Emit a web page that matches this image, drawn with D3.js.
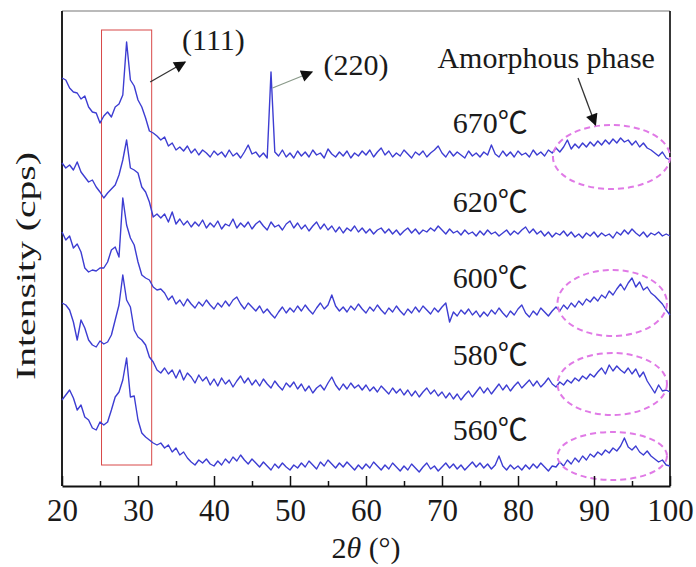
<!DOCTYPE html>
<html>
<head>
<meta charset="utf-8">
<script src="https://cdn.jsdelivr.net/npm/d3@7"></script>
<style>
  body { margin: 0; background: #fff; }
  svg { display: block; }
  text { font-family: "Liberation Serif", "Times New Roman", "Noto Sans CJK SC", serif; fill: #1a1a1a; }
</style>
</head>
<body>
<svg id="chart"></svg>
<script>
//scan angle grid, 2theta every 0.5 degree
const twoTheta = d3.range(20, 100.001, 0.5);

//stacked intensities (arbitrary offset units), one row = 10 degrees
const s670 = [
  408,406,398,394,393,387,390,379,374,373,363,370,374,369,379,382,391,444,406,400,
  386,379,368,355,353,350,346,349,340,343,336,339,335,340,333,337,331,336,333,329,
  335,331,334,329,336,330,333,328,334,341,332,334,329,333,328,414,334,330,336,329,
  333,328,335,330,334,329,336,331,333,328,337,332,329,334,330,335,328,333,330,335,
  331,336,329,334,338,331,335,329,333,330,336,332,328,334,331,335,329,333,336,340,
  333,329,335,330,334,331,328,335,330,333,329,334,331,341,332,329,335,330,334,329,
  335,331,333,329,336,331,334,330,336,333,338,334,339,346,337,342,338,343,339,344,
  340,345,341,346,342,347,343,348,344,346,341,345,339,343,338,336,333,330,334,328,
  326];
const s620 = [
  323,318,321,316,324,314,309,304,306,299,294,288,293,297,301,311,326,346,318,316,
  313,299,294,284,269,272,268,272,264,274,262,267,261,265,259,264,260,266,258,263,
  259,265,257,262,260,267,258,263,259,264,257,262,265,260,256,264,259,261,256,262,
  265,258,263,257,261,255,260,264,257,262,256,260,254,259,253,258,255,260,254,258,
  253,257,252,256,258,253,257,252,256,251,255,258,253,257,252,256,254,258,255,260,
  256,252,257,253,255,251,256,252,254,250,255,251,256,252,254,250,253,256,251,255,
  252,256,259,253,257,252,255,250,254,249,253,251,255,250,254,249,252,248,253,250,
  254,249,253,250,252,248,254,251,256,252,257,253,250,254,249,253,251,254,250,252,
  250];
const s600 = [
  254,246,250,238,242,234,218,214,216,215,218,218,224,236,239,229,288,261,248,241,
  224,211,208,206,199,196,197,193,186,190,182,186,180,187,182,178,184,180,186,181,
  177,183,179,185,180,186,189,182,177,183,179,175,180,173,177,172,168,174,179,173,
  178,174,180,175,181,176,172,178,183,177,181,191,180,175,179,174,180,176,182,177,
  173,179,175,181,176,172,178,174,180,175,171,177,173,179,174,180,176,172,178,174,
  179,183,164,174,170,176,172,177,171,175,169,174,170,176,172,178,173,169,175,171,
  177,181,173,169,175,171,178,174,170,175,179,175,181,177,183,179,185,181,187,184,
  189,185,191,188,195,191,197,202,196,203,208,199,204,196,199,193,190,186,182,176,
  171];
const s580 = [
  183,181,176,164,146,166,158,146,141,139,145,142,144,151,166,181,211,186,179,156,
  149,146,141,129,124,116,113,118,112,116,108,116,106,113,109,103,111,105,109,101,
  107,100,108,102,106,99,105,110,103,108,101,106,100,107,102,98,105,100,96,103,
  99,104,97,102,95,100,93,98,101,96,103,109,101,96,102,97,103,98,101,96,
  101,95,99,94,100,96,92,98,93,97,91,96,90,95,89,94,98,92,96,90,
  94,88,93,87,92,86,91,95,89,94,99,93,98,92,97,102,96,101,95,100,
  104,98,102,106,100,105,99,103,108,102,99,104,101,106,103,108,105,110,107,112,
  109,114,118,112,121,115,120,116,113,118,112,117,109,114,105,99,93,101,95,96,
  94];
const s560 = [
  86,91,96,88,76,81,69,66,58,56,64,61,64,76,89,94,106,128,89,90,
  66,53,49,46,43,41,43,38,41,34,38,31,34,28,24,21,26,23,27,22,
  20,25,21,27,23,29,25,31,26,22,27,23,19,24,20,16,22,18,23,19,
  16,21,18,23,19,25,21,17,24,20,26,22,18,23,19,24,20,16,21,17,
  22,18,24,20,16,21,17,23,19,15,20,16,22,18,14,19,23,17,20,15,
  19,23,18,22,17,21,16,20,24,19,23,18,22,17,21,30,20,16,21,17,
  20,16,21,17,22,18,23,19,15,20,19,24,20,26,22,28,24,30,26,32,
  29,34,31,36,33,38,35,40,48,39,36,40,34,31,35,30,27,24,26,21,
  20];

const temps = ["670℃", "620℃", "600℃", "580℃", "560℃"];
const labelLevel = [353, 274, 198, 121, 46];   //baseline of each temperature label
const xTicks = [20, 30, 40, 50, 60, 70, 80, 90, 100];
const xMinor = [25, 35, 45, 55, 65, 75, 85, 95];

//amorphous-phase ellipses (centre and radii in data units)
const ellipses = [
  { cx: 92.3, cy: 329, rx: 7.7, ry: 32 },
  { cx: 92.4, cy: 183, rx: 7.2, ry: 33 },
  { cx: 92.4, cy: 102, rx: 7.2, ry: 31 },
  { cx: 92.4, cy: 30, rx: 7.2, ry: 24 }
];
//arrows [x1, y1, x2, y2] in data units
const arrows = [
  { p: [31.6, 404, 36.2, 424], c: "#333" },
  { p: [47.7, 398, 52.9, 414], c: "#8a9a8a" },
  { p: [87.9, 408, 90.2, 361], c: "#333" }
];
const notes = [
  { t: "(111)", x: 35.8, y: 436 },
  { t: "(220)", x: 54.4, y: 411 },
  { t: "Amorphous phase", x: 69.4, y: 418 }
];

const width = 696, height = 567;
const svg = d3.select("#chart").attr("width", width).attr("height", height);

const x = d3.scaleLinear().domain([20, 100]).range([62, 670]);
const y = d3.scaleLinear().domain([0, 475]).range([486, 11]);

//arrow head
svg.append("defs").append("marker")
    .attr("id", "head")
    .attr("viewBox", "0 0 10 10")
    .attr("refX", 9).attr("refY", 5)
    .attr("markerWidth", 18).attr("markerHeight", 12)
    .attr("markerUnits", "userSpaceOnUse")
    .attr("orient", "auto")
  .append("path")
    .attr("d", "M0,0 L10,5 L0,10 z")
    .attr("fill", "#111");

//frame
svg.append("line").attr("x1", x(20)).attr("x2", x(100)).attr("y1", y(475)).attr("y2", y(475))
    .attr("stroke", "#777").attr("stroke-width", 1.2);
svg.append("line").attr("x1", x(100)).attr("x2", x(100)).attr("y1", y(475)).attr("y2", y(0))
    .attr("stroke", "#222").attr("stroke-width", 1.8);
svg.append("line").attr("x1", x(20)).attr("x2", x(20)).attr("y1", y(475)).attr("y2", y(0))
    .attr("stroke", "#222").attr("stroke-width", 2);

//red box around (111)
svg.append("rect")
    .attr("x", x(25.2)).attr("y", y(456))
    .attr("width", x(31.8) - x(25.2)).attr("height", y(21) - y(456))
    .attr("fill", "none").attr("stroke", "#d84848").attr("stroke-width", 1);

//curves
const line = d3.line()
    .x((d, i) => x(twoTheta[i]))
    .y(d => y(d));

[s670, s620, s600, s580, s560].forEach(s => {
    svg.append("path")
        .datum(s.slice(0, twoTheta.length))
        .attr("d", line)
        .attr("fill", "none")
        .attr("stroke", "#3d3dd2")
        .attr("stroke-width", 1.4)
        .attr("stroke-linejoin", "round");
});

//ellipses
svg.selectAll(".amorph")
    .data(ellipses)
    .join("ellipse")
    .attr("class", "amorph")
    .attr("cx", d => x(d.cx)).attr("cy", d => y(d.cy))
    .attr("rx", d => x(d.cx + d.rx) - x(d.cx)).attr("ry", d => y(0) - y(d.ry))
    .attr("fill", "none")
    .attr("stroke", "#e07ae6")
    .attr("stroke-width", 2)
    .attr("stroke-dasharray", "6,4");

//arrows
svg.selectAll(".arrow")
    .data(arrows)
    .join("line")
    .attr("class", "arrow")
    .attr("x1", d => x(d.p[0])).attr("y1", d => y(d.p[1]))
    .attr("x2", d => x(d.p[2])).attr("y2", d => y(d.p[3]))
    .attr("stroke", d => d.c)
    .attr("stroke-width", 1.3)
    .attr("marker-end", "url(#head)");

//annotation texts
svg.selectAll(".note")
    .data(notes)
    .join("text")
    .attr("class", "note")
    .attr("x", d => x(d.x)).attr("y", d => y(d.y))
    .style("font-size", "30px")
    .text(d => d.t);

svg.selectAll(".temp")
    .data(temps)
    .join("text")
    .attr("class", "temp")
    .attr("x", x(71.4))
    .attr("y", (d, i) => y(labelLevel[i]))
    .style("font-size", "30px")
    .text(d => d);

//x axis, ticks pointing inward
const xAxis = svg.append("g").attr("transform", `translate(0,${y(0)})`)
    .call(d3.axisBottom(x).tickValues(xTicks).tickSize(-10).tickSizeOuter(0).tickPadding(13).tickFormat(d3.format("d")));
xAxis.select(".domain").attr("stroke", "#111").attr("stroke-width", 2);
xAxis.selectAll(".tick line").attr("stroke", "#111").attr("stroke-width", 1.5);
xAxis.selectAll(".tick text")
    .style("font-size", "31px")
    .style("font-family", "'Liberation Serif', 'Times New Roman', serif")
    .attr("fill", "#1a1a1a");

svg.append("g").attr("transform", `translate(0,${y(0)})`)
    .call(d3.axisBottom(x).tickValues(xMinor).tickSize(-5).tickSizeOuter(0).tickFormat(""))
    .call(g => g.select(".domain").remove())
    .selectAll(".tick line").attr("stroke", "#111").attr("stroke-width", 1.5);

//axis titles
const xt = svg.append("text")
    .attr("x", x(60)).attr("y", 558)
    .attr("text-anchor", "middle")
    .style("font-size", "30px");
xt.append("tspan").text("2");
xt.append("tspan").style("font-style", "italic").text("θ");
xt.append("tspan").text(" (°)");

svg.append("text")
    .attr("transform", `translate(35,${266}) rotate(-90)`)
    .attr("text-anchor", "middle")
    .attr("textLength", 228)
    .attr("lengthAdjust", "spacingAndGlyphs")
    .style("font-size", "28px")
    .text("Intensity (cps)");
</script>
</body>
</html>
